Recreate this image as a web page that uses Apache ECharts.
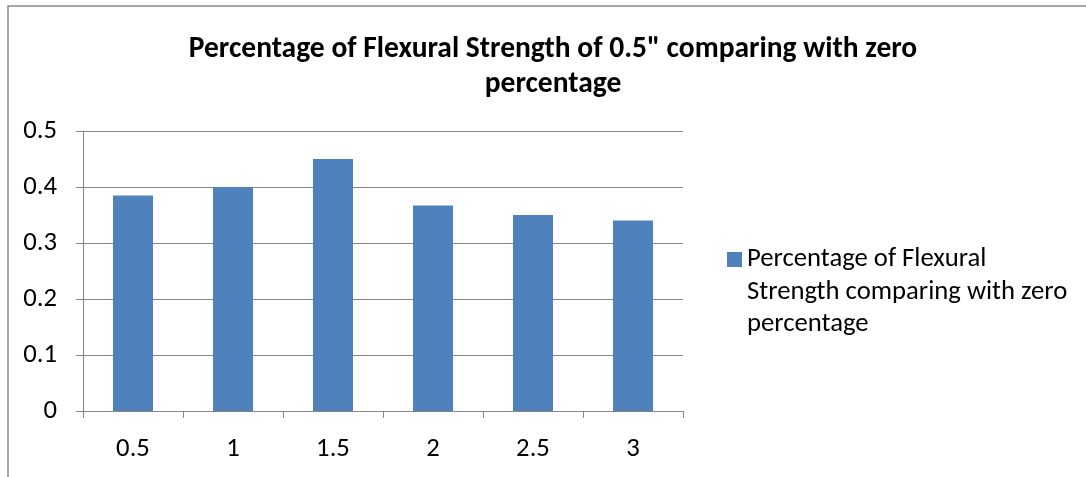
<!DOCTYPE html>
<html>
<head>
<meta charset="utf-8">
<style>
  html, body { margin: 0; padding: 0; background: #fff; }
  #chart { width: 1086px; height: 477px; }
</style>
<script src="https://cdn.jsdelivr.net/npm/echarts@6/dist/echarts.min.js"></script>
</head>
<body>
<div id="chart"></div>
<script>
// Fibre length (inches) along the x axis
const categories = ['0.5', '1', '1.5', '2', '2.5', '3'];
// Flexural strength ratio against the zero-fibre mix
const strengthRatio = [0.385, 0.4, 0.45, 0.367, 0.35, 0.34];
const yTicks = [0, 0.1, 0.2, 0.3, 0.4, 0.5];

const seriesName = 'Percentage of Flexural Strength comparing with zero percentage';
const legendLines = ['Percentage of Flexural', 'Strength comparing with zero', 'percentage'];
const titleText = 'Percentage of Flexural Strength of 0.5" comparing with zero\npercentage';

const FONT = 'Carlito, Lato, "Open Sans", sans-serif';
const GRID = '#868686';
const LEGEND_LINE = 32.5;

const chart = echarts.init(document.getElementById('chart'), null, { renderer: 'canvas' });
chart.setOption({
  animation: false,
  backgroundColor: '#ffffff',
  title: {
    text: titleText,
    left: 553,
    top: 32,
    padding: 0,
    textAlign: 'center',
    textStyle: {
      fontFamily: FONT,
      fontWeight: 'bold',
      fontSize: 29.5,
      lineHeight: 35,
      color: '#000'
    }
  },
  legend: {
    left: 727,
    // the legend text block is centred on the swatch; two leading blank
    // lines put the first text line level with the swatch
    top: 259.5 - LEGEND_LINE * 2.5,
    padding: 0,
    orient: 'vertical',
    itemWidth: 15,
    itemHeight: 15,
    icon: 'rect',
    formatter: () => '\n\n' + legendLines.join('\n'),
    textStyle: {
      fontFamily: FONT,
      fontSize: 26.7,
      lineHeight: LEGEND_LINE,
      color: '#000'
    }
  },
  grid: { left: 83, right: 403, top: 131, bottom: 66, containLabel: false },
  xAxis: {
    type: 'category',
    data: categories,
    axisLine: { lineStyle: { color: GRID, width: 1 } },
    axisTick: { show: true, length: 7, lineStyle: { color: GRID } },
    axisLabel: { margin: 25, fontFamily: FONT, fontSize: 26.7, color: '#000' }
  },
  yAxis: {
    type: 'value',
    min: 0,
    max: 0.5,
    interval: 0.1,
    axisLine: { show: true, lineStyle: { color: GRID, width: 1 } },
    axisTick: { show: true, length: 7, lineStyle: { color: GRID } },
    splitLine: { show: true, lineStyle: { color: GRID, width: 1 } },
    axisLabel: {
      margin: 26,
      fontFamily: FONT,
      fontSize: 26.7,
      color: '#000',
      formatter: v => {
        const t = yTicks.find(y => Math.abs(y - v) < 1e-9);
        return t === undefined ? '' : String(t);
      }
    }
  },
  series: [{
    name: seriesName,
    type: 'bar',
    data: strengthRatio,
    barWidth: 40,
    itemStyle: { color: '#4F81BD' }
  }],
  graphic: [{
    type: 'rect',
    shape: { x: 8, y: 6, width: 2000, height: 2000 },
    style: { fill: 'none', stroke: '#898989', lineWidth: 1.5 },
    silent: true
  }]
});
</script>
</body>
</html>
